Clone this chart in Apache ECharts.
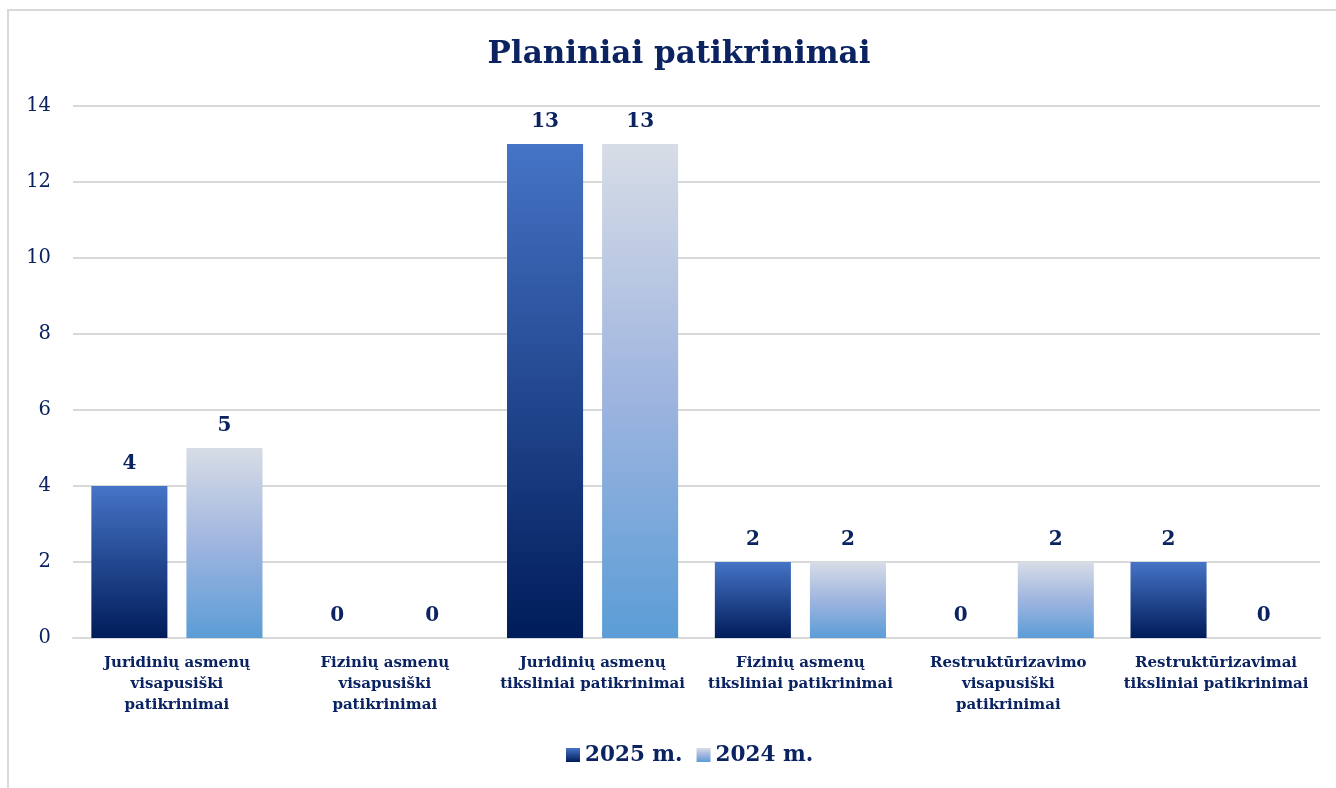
<!DOCTYPE html>
<html>
<head>
<meta charset="utf-8">
<script src="https://cdn.jsdelivr.net/npm/echarts@6/dist/echarts.min.js"></script>
<style>
html,body{margin:0;padding:0;background:#fff;}
#c{width:1336px;height:788px;}
</style>
</head>
<body>
<div id="c"></div>
<script>
const titleText = 'Planiniai patikrinimai';
const categories = [
  'Juridinių asmenų\nvisapusiški\npatikrinimai',
  'Fizinių asmenų\nvisapusiški\npatikrinimai',
  'Juridinių asmenų\ntiksliniai patikrinimai',
  'Fizinių asmenų\ntiksliniai patikrinimai',
  'Restruktūrizavimo\nvisapusiški\npatikrinimai',
  'Restruktūrizavimai\ntiksliniai patikrinimai'
];
const seriesNames = ['2025 m.', '2024 m.'];
const values2025 = [4, 0, 13, 2, 0, 2];
const values2024 = [5, 0, 13, 2, 2, 0];

const FONT = '"DejaVu Serif", "Liberation Serif", serif';
const NAVY = '#0b2461';

const grad2025 = new echarts.graphic.LinearGradient(0, 0, 0, 1, [
  {offset: 0, color: '#4674c6'},
  {offset: 1, color: '#001c5a'}
]);
const grad2024 = new echarts.graphic.LinearGradient(0, 0, 0, 1, [
  {offset: 0, color: '#d7dde6'},
  {offset: 0.5, color: '#9fb5df'},
  {offset: 1, color: '#5b9dd6'}
]);

const labelStyle = {
  show: true,
  position: 'top',
  distance: 12,
  fontFamily: FONT,
  fontWeight: 'bold',
  fontSize: 20,
  color: NAVY
};

const chart = echarts.init(document.getElementById('c'), null, {renderer: 'canvas'});
chart.setOption({
  animation: false,
  backgroundColor: '#fff',
  graphic: [{
    type: 'rect',
    shape: {x: 8, y: 10, width: 1340, height: 800},
    style: {fill: 'none', stroke: '#d9d9d9', lineWidth: 2},
    silent: true,
    z: -1
  }],
  title: {
    text: titleText,
    left: 674,
    top: 34,
    textAlign: 'center',
    textStyle: {fontFamily: FONT, fontWeight: 'bold', fontSize: 31, color: NAVY}
  },
  legend: {
    bottom: 17,
    left: 561,
    itemWidth: 14,
    itemHeight: 14,
    itemGap: 14,
    icon: 'rect',
    textStyle: {fontFamily: FONT, fontWeight: 'bold', fontSize: 21.5, color: NAVY},
    data: seriesNames
  },
  grid: {left: 73, right: 16, top: 106, bottom: 150, containLabel: false},
  xAxis: {
    type: 'category',
    data: categories,
    axisLine: {show: true, lineStyle: {color: '#d9d9d9', width: 2}},
    axisTick: {show: false},
    axisLabel: {
      interval: 0,
      margin: 15,
      fontFamily: FONT,
      fontWeight: 'bold',
      fontSize: 15,
      lineHeight: 21,
      color: NAVY
    }
  },
  yAxis: {
    type: 'value',
    min: 0,
    max: 14,
    interval: 2,
    axisLine: {show: false},
    axisTick: {show: false},
    splitLine: {lineStyle: {color: '#d9d9d9', width: 2}},
    axisLabel: {margin: 22, fontFamily: FONT, fontSize: 19.5, color: NAVY}
  },
  series: [
    {
      name: seriesNames[0],
      type: 'bar',
      data: values2025,
      barWidth: '36.6%',
      barGap: '25%',
      itemStyle: {color: grad2025},
      label: labelStyle
    },
    {
      name: seriesNames[1],
      type: 'bar',
      data: values2024,
      barWidth: '36.6%',
      barGap: '25%',
      itemStyle: {color: grad2024},
      label: labelStyle
    }
  ]
});
</script>
</body>
</html>
